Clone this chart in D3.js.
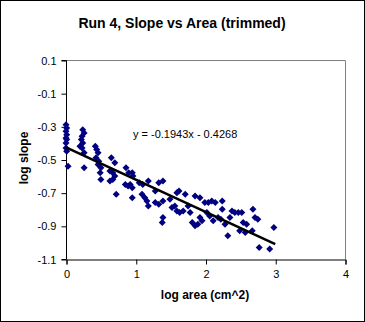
<!DOCTYPE html>
<html><head><meta charset="utf-8">
<script src="https://cdn.jsdelivr.net/npm/d3@7"></script>
<style>body{margin:0;background:#fff}svg{display:block}text{font-family:"Liberation Sans",Arial,sans-serif}</style>
</head><body><svg id="c" width="365" height="322"></svg>
<script>
const title = "Run 4, Slope vs Area (trimmed)";
const xLabel = "log area (cm^2)";
const yLabel = "log slope";
const xTicks = [0, 1, 2, 3, 4];
const yTicks = [0.1, -0.1, -0.3, -0.5, -0.7, -0.9, -1.1];
const xs = [0.00,0.01,0.00,0.01,0.00,0.01,0.00,0.00,0.01,0.03,
 0.24,0.26,0.23,0.22,0.24,0.20,0.23,0.26,0.26,
 0.42,0.44,0.46,0.43,0.47,0.46,0.50,0.49,0.50,
 0.65,0.70,0.63,0.67,0.70,0.67,0.63,0.72,
 0.86,0.90,0.95,0.96,0.85,0.89,0.95,0.92,0.95,
 1.05,1.10,1.18,1.09,1.13,1.16,1.18,
 1.28,1.28,1.33,1.39,1.33,1.39,1.39,1.38,
 1.49,1.52,1.56,1.59,1.63,1.68,1.59,1.62,1.71,
 1.75,1.78,1.85,1.92,1.81,1.85,1.89,1.92,1.95,
 1.99,2.04,2.09,2.14,2.24,2.02,2.06,2.11,2.24,2.18,2.22,
 2.28,2.35,2.32,2.38,2.42,2.47,2.52,2.49,2.57,2.54,2.59,
 2.68,2.71,2.75,2.67,2.98,2.77,2.92];
const ys = [-0.29,-0.31,-0.33,-0.35,-0.37,-0.38,-0.40,-0.43,-0.45,-0.54,
 -0.32,-0.34,-0.36,-0.38,-0.40,-0.42,-0.43,-0.46,-0.55,
 -0.42,-0.44,-0.46,-0.49,-0.51,-0.53,-0.55,-0.58,-0.62,
 -0.49,-0.52,-0.57,-0.58,-0.60,-0.62,-0.63,-0.71,
 -0.55,-0.58,-0.58,-0.60,-0.65,-0.66,-0.67,-0.65,-0.73,
 -0.64,-0.65,-0.63,-0.71,-0.73,-0.75,-0.78,
 -0.69,-0.76,-0.77,-0.75,-0.64,-0.63,-0.85,-0.88,
 -0.74,-0.79,-0.78,-0.81,-0.82,-0.81,-0.70,-0.69,-0.71,
 -0.78,-0.82,-0.72,-0.73,-0.88,-0.90,-0.89,-0.85,-0.87,
 -0.76,-0.76,-0.75,-0.76,-0.75,-0.82,-0.84,-0.87,-0.80,-0.85,-0.86,
 -0.89,-0.85,-0.96,-0.81,-0.82,-0.82,-0.82,-0.93,-0.94,-0.88,-0.89,
 -0.80,-0.85,-0.86,-0.93,-0.91,-1.03,-1.04];
const slope = -0.1943, intercept = -0.4268;
const trendX = [0, 3];
const eqLabel = "y = -0.1943x - 0.4268";

const svg = d3.select("#c");
svg.append("rect").attr("x",0.5).attr("y",0.5).attr("width",364).attr("height",321)
  .attr("fill","#fff").attr("stroke","#000");

const x = d3.scaleLinear().domain([0,4]).range([66,345]);
const y = d3.scaleLinear().domain([-1.1,0.1]).range([259,60]);

svg.append("path").attr("d",`M${x(0)},${y(0.1)+0.5}H${x(4)+0.5}V${y(-1.1)}`)
  .attr("fill","none").attr("stroke","#808080");

const yAxis = svg.append("g").attr("transform",`translate(${x(0)+0.5},0.5)`)
  .call(d3.axisLeft(y).tickValues(yTicks).tickSize(5).tickPadding(5).tickFormat(d=>d3.format(".1f")(d).replace("−","-")));
const xAxis = svg.append("g").attr("transform",`translate(0.5,${y(-1.1)+0.5})`)
  .call(d3.axisBottom(x).tickValues(xTicks).tickSize(5).tickPadding(6).tickFormat(d3.format("d")));
[yAxis,xAxis].forEach(g=>{
  g.select(".domain").attr("stroke","#000");
  g.selectAll(".tick line").attr("stroke","#000");
  g.selectAll("text").attr("font-size",11).attr("fill","#000").attr("font-family","Liberation Sans, Arial, sans-serif");
});
yAxis.selectAll(".domain").attr("d",`M-5,${y(0.1)}H0V${y(-1.1)}H-5`);

const sqDiamond = {draw(ctx,size){const r=Math.sqrt(size/2);ctx.moveTo(0,-r);ctx.lineTo(r,0);ctx.lineTo(0,r);ctx.lineTo(-r,0);ctx.closePath();}};
const diamond = d3.symbol().type(sqDiamond).size(24.5);
svg.append("g").selectAll("path").data(xs.map((v,i)=>[v,ys[i]])).join("path")
  .attr("d",diamond).attr("transform",d=>`translate(${x(d[0])},${y(d[1])})`)
  .attr("fill","#000080");

svg.append("line").attr("x1",x(trendX[0])).attr("y1",y(slope*trendX[0]+intercept))
  .attr("x2",x(trendX[1])).attr("y2",y(slope*trendX[1]+intercept))
  .attr("stroke","#000").attr("stroke-width",2.5);

svg.append("text").attr("x",133).attr("y",138).attr("font-size",11).text(eqLabel);

svg.append("text").attr("x",182).attr("y",28).attr("text-anchor","middle")
  .attr("font-size",14).attr("font-weight","bold").text(title);
svg.append("text").attr("x",205).attr("y",299).attr("text-anchor","middle")
  .attr("font-size",12).attr("font-weight","bold").text(xLabel);
svg.append("text").attr("transform","translate(28,158) rotate(-90)").attr("text-anchor","middle")
  .attr("font-size",12).attr("font-weight","bold").text(yLabel);
</script></body></html>
